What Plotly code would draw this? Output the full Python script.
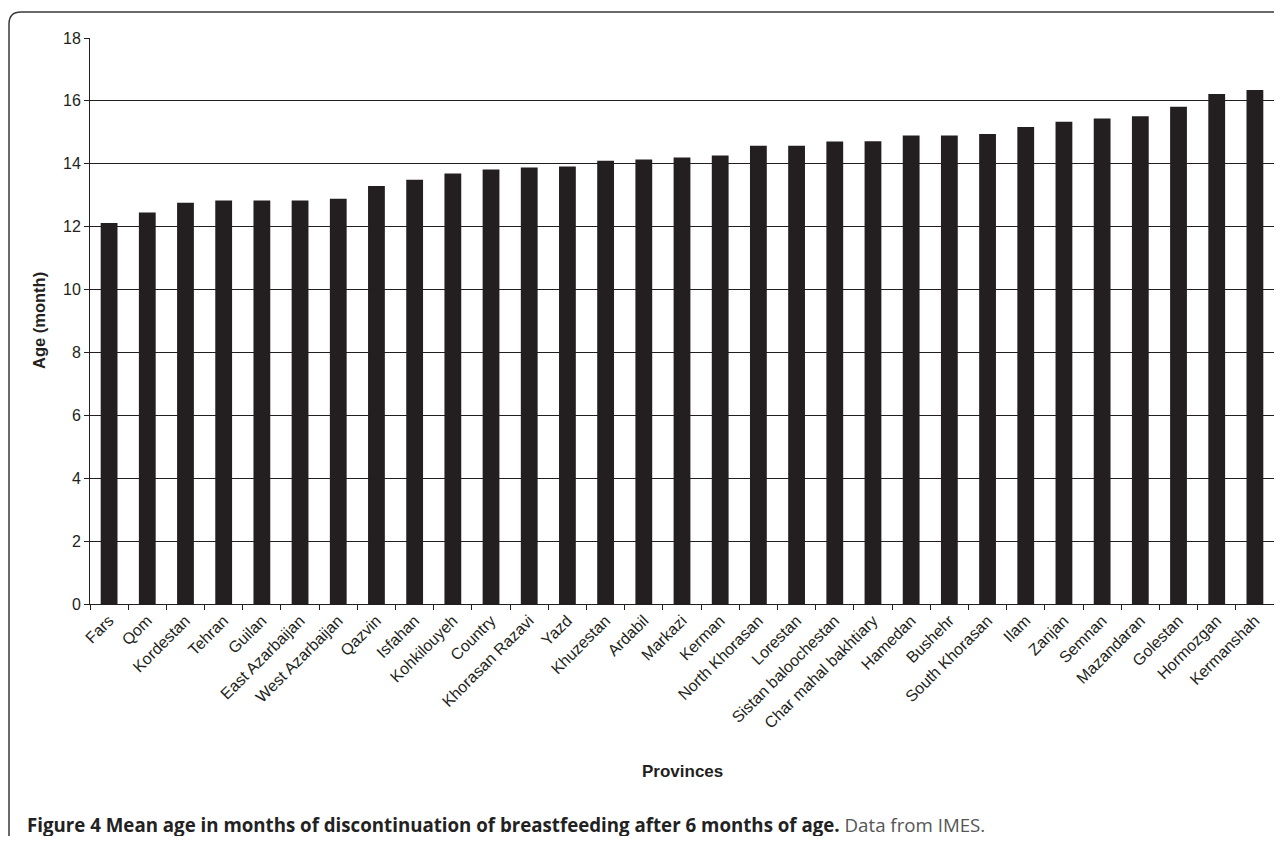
import plotly.graph_objects as go

provinces = ["Fars", "Qom", "Kordestan", "Tehran", "Guilan", "East Azarbaijan",
             "West Azarbaijan", "Qazvin", "Isfahan", "Kohkilouyeh", "Country",
             "Khorasan Razavi", "Yazd", "Khuzestan", "Ardabil", "Markazi", "Kerman",
             "North Khorasan", "Lorestan", "Sistan baloochestan", "Char mahal bakhtiary",
             "Hamedan", "Bushehr", "South Khorasan", "Ilam", "Zanjan", "Semnan",
             "Mazandaran", "Golestan", "Hormozgan", "Kermanshah"]
mean_age = [12.12, 12.45, 12.76, 12.83, 12.83, 12.83, 12.89, 13.29, 13.49, 13.69,
            13.82, 13.88, 13.91, 14.10, 14.14, 14.20, 14.26, 14.57, 14.57, 14.71,
            14.72, 14.90, 14.90, 14.95, 15.17, 15.34, 15.44, 15.51, 15.81, 16.22, 16.35]
y_ticks = [0, 2, 4, 6, 8, 10, 12, 14, 16, 18]

OFF = 8  # page body margin
W, H = 1266, 828
# plot area in page pixels
PL, PR, PT, PB = 90, 1274, 38, 604
L, R, T, B = PL - OFF, PR - OFF, PT - OFF, PB - OFF
INK = "#231f20"
FONT = "Liberation Sans, Arial, sans-serif"


def px(x):  # page x -> paper
    return (x - PL) / (PR - PL)


def py(y):  # page y -> paper
    return (PB - y) / (PB - PT)


fig = go.Figure(go.Bar(x=provinces, y=mean_age, marker=dict(color=INK, line=dict(width=0)),
                       hoverinfo="x+y"))

frame = (f"M {px(1290)},{py(12)} L {px(21)},{py(12)} Q {px(9)},{py(12)} {px(9)},{py(24)} "
         f"L {px(9)},{py(860)}")

fig.update_layout(
    width=W, height=H,
    margin=dict(l=L, r=max(W - R, 0), t=T, b=H - B),
    paper_bgcolor="white", plot_bgcolor="white",
    bargap=0.56,
    showlegend=False,
    font=dict(family=FONT, color=INK),
    xaxis=dict(
        type="category", tickangle=-45, tickfont=dict(size=16),
        showline=True, linecolor=INK, linewidth=1, ticks="outside", ticklen=5,
        tickcolor=INK, tickson="boundaries", showgrid=False, mirror=False,
    ),
    yaxis=dict(
        range=[0, 18], tickvals=y_ticks, tickfont=dict(size=16),
        showline=True, linecolor=INK, linewidth=1, ticks="outside", ticklen=5,
        tickcolor=INK, showgrid=True, gridcolor=INK, gridwidth=1, zeroline=False,
    ),
    shapes=[dict(type="path", xref="paper", yref="paper", path=frame,
                 line=dict(color="#3a3a3a", width=1.5))],
    annotations=[
        dict(text="<b>Age (month)</b>", x=0, xref="paper", xshift=39 - PL, y=0.5, yref="paper",
             textangle=-90, showarrow=False, xanchor="center", yanchor="middle",
             font=dict(size=16.5, family=FONT, color=INK)),
        dict(text="<b>Provinces</b>", x=px(682), xref="paper", y=py(772), yref="paper",
             showarrow=False, xanchor="center", yanchor="middle",
             font=dict(size=17, family=FONT, color=INK)),
        dict(text="<b>Figure 4 Mean age in months of discontinuation of breastfeeding after 6 months of age.</b>"
                  " <span style='color:#555555'>Data from IMES.</span>",
             x=px(25), xref="paper", y=py(824), yref="paper",
             showarrow=False, xanchor="left", yanchor="middle",
             font=dict(size=18.7, family="Open Sans, sans-serif", color="#222222")),
    ],
)

fig.write_html("out.html")
